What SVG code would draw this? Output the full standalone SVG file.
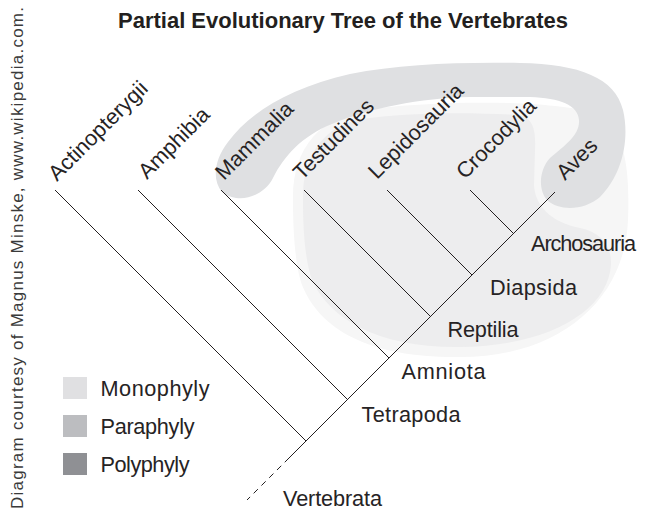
<svg xmlns="http://www.w3.org/2000/svg" width="650" height="516" viewBox="0 0 650 516">
  <style>
    .lbl { font-family: "Liberation Sans", Arial, sans-serif; font-size: 21.7px; fill: #262324; }
    .title { font-family: "Liberation Sans", Arial, sans-serif; font-size: 22px; font-weight: bold; fill: #231f20; }
    .side { font-family: "Liberation Sans", Arial, sans-serif; font-size: 17px; fill: #3a3a3a; }
    .ln { stroke: #231f20; stroke-width: 1; fill: none; }
  </style>
  <rect width="650" height="516" fill="#ffffff"/>

  <text class="title" x="118" y="28">Partial Evolutionary Tree of the Vertebrates</text>
  <text class="side" transform="translate(23,509) rotate(-90)" textLength="502" lengthAdjust="spacing">Diagram courtesy of Magnus Minske, www.wikipedia.com.</text>

  <g id="groups">
    <path id="monophyly-region" fill="#f6f6f6" d="M 293 200 C 292 150, 318 114, 378 108 C 450 100, 560 100, 600 115 C 625 130, 630 170, 628 220 C 625 300, 560 357, 460 357 C 370 358, 320 330, 302 285 C 295 265, 293 230, 293 200 Z"/>
    <path id="paraphyly-region" fill="#ededee" d="M 303 200 C 302 158, 322 126, 362 119 C 420 111, 480 113, 520 115 C 533 118, 536 130, 535 150 L 534 185 C 535 205, 550 222, 580 228 C 600 232, 612 245, 611 265 C 608 310, 550 346, 460 347 C 380 348, 330 320, 312 280 C 305 260, 303 230, 303 200 Z"/>
    <path id="polyphyly-region" fill="#dfe0e2" d="M 222 192 C 212 180, 214 160, 228 142 C 250 112, 290 88, 350 74 C 400 64, 460 62, 520 63 C 580 64, 615 78, 623 110 C 630 140, 622 175, 600 197 C 585 210, 560 212, 547 200 C 538 190, 539 170, 550 158 C 565 145, 580 135, 579 120 C 578 105, 560 98, 530 97 L 470 97 C 420 98, 370 108, 332 124 C 302 136, 284 156, 273 178 C 266 192, 250 200, 236 198 C 230 197, 225 195, 222 192 Z"/>
  </g>

  <g id="connectors">
    <line class="ln" x1="555" y1="192" x2="289" y2="458"/>
    <line class="ln" x1="289" y1="458" x2="247" y2="500" stroke-dasharray="6 5"/>
    <line class="ln" x1="55" y1="190" x2="306" y2="441"/>
    <line class="ln" x1="138" y1="190" x2="347.5" y2="399.5"/>
    <line class="ln" x1="221" y1="190" x2="389" y2="358"/>
    <line class="ln" x1="304" y1="190" x2="430.5" y2="316.5"/>
    <line class="ln" x1="387" y1="190" x2="472" y2="275"/>
    <line class="ln" x1="470" y1="190" x2="513.5" y2="233.5"/>
  </g>

  <g id="node-actinopterygii"><text class="lbl" transform="translate(57,182) rotate(-45)">Actinopterygii</text></g>
  <g id="node-amphibia"><text class="lbl" transform="translate(147,180) rotate(-45)">Amphibia</text></g>
  <g id="node-mammalia"><text class="lbl" transform="translate(224,181) rotate(-45)">Mammalia</text></g>
  <g id="node-testudines"><text class="lbl" transform="translate(302,181) rotate(-45)">Testudines</text></g>
  <g id="node-lepidosauria"><text class="lbl" transform="translate(377,180) rotate(-45)">Lepidosauria</text></g>
  <g id="node-crocodylia"><text class="lbl" transform="translate(465,180) rotate(-45)">Crocodylia</text></g>
  <g id="node-aves"><text class="lbl" transform="translate(565,181) rotate(-45)">Aves</text></g>

  <g id="node-archosauria"><text class="lbl" x="531" y="251" textLength="105">Archosauria</text></g>
  <g id="node-diapsida"><text class="lbl" x="490" y="294.5" textLength="87">Diapsida</text></g>
  <g id="node-reptilia"><text class="lbl" x="447.5" y="336.5" textLength="71">Reptilia</text></g>
  <g id="node-amniota"><text class="lbl" x="401.5" y="379" textLength="84">Amniota</text></g>
  <g id="node-tetrapoda"><text class="lbl" x="361.5" y="421.5" textLength="99">Tetrapoda</text></g>
  <g id="node-vertebrata"><text class="lbl" x="283" y="506" textLength="99">Vertebrata</text></g>

  <g id="legend">
    <rect x="63" y="377" width="24" height="22" fill="#e0e0e2"/>
    <rect x="63" y="415" width="24" height="22" fill="#bcbdc0"/>
    <rect x="63" y="453" width="24" height="22" fill="#8f9094"/>
    <text class="lbl" x="100.5" y="396" textLength="109">Monophyly</text>
    <text class="lbl" x="100.5" y="434" textLength="94">Paraphyly</text>
    <text class="lbl" x="100.5" y="472" textLength="89">Polyphyly</text>
  </g>
</svg>
